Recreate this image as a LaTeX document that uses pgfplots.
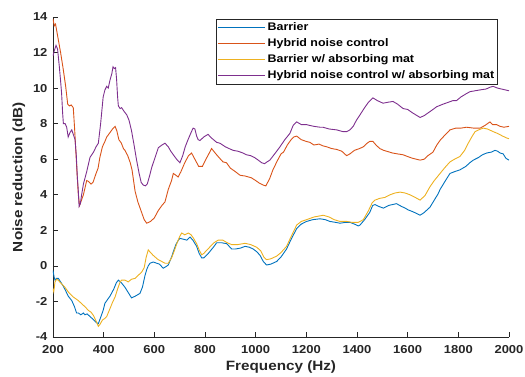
\documentclass[border=0pt]{standalone}
\usepackage{pgfplots}
\pgfplotsset{compat=1.18}
\usepackage{fontspec}
\newfontfamily\figfont{Liberation Sans}[FakeStretch=1.13]
\definecolor{mblue}{rgb}{0,0.447,0.741}
\definecolor{morange}{rgb}{0.85,0.325,0.098}
\definecolor{myellow}{rgb}{0.929,0.694,0.125}
\definecolor{mpurple}{rgb}{0.494,0.184,0.556}
\definecolor{axgray}{HTML}{262626}
\begin{document}
\begin{tikzpicture}
\path[use as bounding box] (-53pt,-39pt) rectangle (472pt,337pt);
\begin{axis}[
  scale only axis, width=456pt, height=320pt,
  xmin=200, xmax=2000, ymin=-4, ymax=14,
  axis lines*=left,
  axis line style={axgray, line width=0.6pt},
  tick style={axgray, line width=0.6pt},
  major tick length=5pt,
  xtick={200,400,...,2000}, ytick={-4,-2,...,14},
  /pgf/number format/assume math mode=true,
  /pgf/number format/1000 sep={},
  ticklabel style={font=\figfont\bfseries\fontsize{11.5}{13}\selectfont, text=axgray},
  xticklabel style={yshift=-5pt},
  yticklabel style={xshift=-2pt},
  xlabel={Frequency (Hz)}, ylabel={Noise reduction (dB)},
  label style={font=\figfont\bfseries\fontsize{13.5}{15}\selectfont, text=axgray},
  xlabel style={at={(axis description cs:0.5,-0.105)}, anchor=base},
  ylabel style={at={(axis description cs:-0.0746,0.5)}, anchor=center},
  legend style={at={(0.9759,0.99375)}, anchor=north east, draw=axgray, line width=0.6pt, fill=white,
    font=\figfont\bfseries\fontsize{11}{12}\selectfont, inner sep=1.5pt, row sep=2.6pt},
  legend cell align=left,
  legend image code/.code={\draw[#1, line width=1pt] (-6pt,0pt) -- (41pt,0pt);},
  every axis plot/.append style={line width=0.9pt},
]
\addplot[mblue] coordinates {
(200,-0.25)(204,-0.6)(208,-0.8)(214,-0.7)(221,-0.7)(230,-0.9)(241,-1.15)(250,-1.4)(260,-1.7)(274,-1.95)
(285,-2.3)(293,-2.65)(300,-2.65)(310,-2.75)(320,-2.65)(326,-2.75)(335,-2.7)(346,-2.85)(358,-3.0)(372,-3.2)
(379,-3.25)(388,-2.9)(398,-2.5)(405,-2.1)(415,-1.9)(425,-1.7)(440,-1.3)(450,-0.95)(458,-0.8)(470,-0.95)
(484,-1.2)(497,-1.5)(510,-1.8)(525,-1.7)(543,-1.55)(553,-1.2)(563,-0.55)(570,-0.2)(576,0.0)(583,0.15)
(596,0.22)(609,0.15)(620,0.1)(635,-0.13)(645,-0.05)(655,0.05)(668,0.5)(675,0.8)(685,1.2)(695,1.45)
(701,1.55)(715,1.5)(728,1.45)(741,1.62)(752,1.45)(767,1.1)(777,0.7)(787,0.45)(795,0.45)(813,0.7)
(833,1.05)(846,1.3)(866,1.3)(886,1.25)(905,0.95)(920,0.95)(940,1.0)(958,1.1)(975,1.05)(990,0.95)
(1004,0.8)(1017,0.6)(1030,0.25)(1043,0.05)(1060,0.1)(1083,0.25)(1100,0.5)(1122,0.95)(1140,1.5)(1162,2.1)
(1180,2.35)(1201,2.5)(1225,2.6)(1254,2.65)(1275,2.6)(1293,2.5)(1315,2.45)(1333,2.4)(1355,2.45)(1372,2.45)
(1390,2.35)(1405,2.25)(1412,2.3)(1430,2.6)(1450,3.0)(1462,3.4)(1471,3.45)(1485,3.35)(1504,3.25)(1525,3.4)
(1540,3.45)(1556,3.5)(1575,3.35)(1590,3.25)(1602,3.15)(1620,3.05)(1635,2.95)(1649,2.85)(1665,3.0)(1688,3.3)
(1705,3.7)(1720,4.05)(1728,4.3)(1745,4.7)(1767,5.2)(1785,5.3)(1806,5.4)(1830,5.6)(1845,5.8)(1859,5.95)
(1880,6.1)(1895,6.25)(1912,6.35)(1930,6.4)(1945,6.5)(1955,6.45)(1965,6.35)(1977,6.3)(1988,6.05)(2000,5.95)
};
\addlegendentry{Barrier}
\addplot[morange] coordinates {
(200,13.9)(205,13.5)(210,13.6)(220,12.8)(230,12.0)(240,11.1)(250,10.1)(258,9.1)(265,9.0)(272,9.05)
(280,8.9)(285,7.8)(290,6.5)(295,5.2)(300,4.0)(305,3.4)(310,3.6)(320,4.0)(333,4.8)(340,4.75)
(350,4.6)(358,4.7)(370,5.2)(378,5.5)(385,6.1)(395,6.7)(405,7.0)(412,7.25)(425,7.5)(435,7.7)
(445,7.85)(452,7.6)(460,7.1)(470,6.9)(478,6.6)(484,6.5)(495,6.2)(505,5.8)(512,5.4)(520,4.6)
(524,4.2)(535,3.6)(550,3.0)(560,2.6)(570,2.4)(585,2.5)(600,2.7)(615,3.1)(630,3.4)(642,3.6)
(655,4.3)(668,4.8)(675,5.2)(685,5.1)(694,5.0)(705,5.3)(720,5.8)(735,6.2)(747,6.35)(760,6.0)
(775,5.6)(790,5.6)(800,5.9)(815,6.3)(826,6.6)(840,6.35)(855,6.1)(871,5.85)(885,5.8)(900,5.5)
(920,5.3)(938,5.1)(960,5.05)(984,4.95)(1000,4.8)(1015,4.65)(1029,4.55)(1040,4.5)(1055,4.9)(1068,5.4)
(1085,5.9)(1100,6.3)(1110,6.4)(1125,6.8)(1140,7.1)(1150,7.25)(1162,7.3)(1180,7.1)(1200,7.0)(1214,6.95)
(1230,6.8)(1250,6.85)(1266,6.75)(1280,6.7)(1300,6.6)(1320,6.55)(1340,6.45)(1359,6.2)(1372,6.3)(1390,6.5)
(1410,6.6)(1425,6.7)(1440,6.9)(1450,7.0)(1463,7.0)(1475,6.8)(1490,6.6)(1505,6.5)(1517,6.45)(1540,6.35)
(1560,6.3)(1582,6.25)(1600,6.15)(1620,6.05)(1649,5.95)(1665,6.0)(1680,6.2)(1700,6.4)(1715,6.8)(1730,7.1)
(1750,7.4)(1767,7.65)(1790,7.75)(1810,7.75)(1833,7.8)(1860,7.75)(1886,7.75)(1905,7.9)(1925,8.1)(1935,7.95)
(1951,7.95)(1965,7.85)(1980,7.8)(2000,7.85)
};
\addlegendentry{Hybrid noise control}
\addplot[myellow] coordinates {
(200,-1.3)(203,-1.45)(208,-0.9)(214,-0.75)(220,-0.8)(230,-0.95)(247,-1.2)(262,-1.5)(280,-1.75)(300,-1.95)
(315,-2.15)(330,-2.35)(339,-2.5)(350,-2.6)(360,-2.8)(370,-3.1)(379,-3.4)(385,-3.3)(395,-3.05)(405,-2.95)
(412,-2.85)(425,-2.4)(435,-2.05)(445,-1.75)(455,-1.3)(465,-0.9)(471,-0.8)(484,-0.8)(497,-0.9)(510,-0.75)
(524,-0.7)(535,-0.55)(550,-0.35)(560,-0.1)(568,0.5)(576,0.9)(585,0.75)(595,0.6)(603,0.5)(615,0.35)
(629,0.25)(642,0.15)(655,0.15)(668,0.45)(675,0.7)(690,1.3)(700,1.65)(708,1.85)(720,1.75)(734,1.85)
(745,1.75)(755,1.55)(767,1.25)(777,0.9)(787,0.62)(795,0.7)(815,1.0)(835,1.3)(852,1.45)(870,1.45)
(888,1.3)(905,1.2)(930,1.2)(958,1.27)(980,1.2)(1004,1.05)(1020,0.85)(1032,0.5)(1043,0.35)(1060,0.4)
(1083,0.55)(1100,0.75)(1122,1.1)(1140,1.65)(1162,2.3)(1180,2.5)(1201,2.6)(1230,2.75)(1267,2.85)(1290,2.75)
(1310,2.6)(1333,2.5)(1360,2.5)(1380,2.45)(1405,2.45)(1425,2.6)(1445,3.1)(1460,3.55)(1471,3.7)(1490,3.8)
(1510,3.85)(1530,4.0)(1550,4.1)(1570,4.15)(1590,4.1)(1609,4.0)(1630,3.85)(1649,3.7)(1668,3.95)(1688,4.45)
(1705,4.8)(1728,5.2)(1745,5.5)(1767,5.85)(1785,6.0)(1806,6.15)(1825,6.5)(1839,6.9)(1855,7.3)(1866,7.55)
(1880,7.65)(1898,7.75)(1915,7.7)(1938,7.55)(1955,7.45)(1975,7.3)(1990,7.2)(2000,7.15)
};
\addlegendentry{Barrier w/ absorbing mat}
\addplot[mpurple] coordinates {
(200,11.8)(205,12.1)(212,12.4)(218,12.2)(225,11.2)(230,10.4)(234,9.7)(238,8.6)(241,8.0)(248,8.0)
(254,7.8)(260,7.25)(267,7.5)(274,7.65)(280,7.4)(287,7.1)(292,6.2)(296,5.0)(300,4.2)(303,3.35)
(308,3.5)(313,4.0)(320,4.6)(333,5.3)(346,6.1)(360,6.4)(370,6.7)(379,6.9)(388,8.0)(398,9.5)
(405,9.9)(412,10.1)(418,10.0)(425,10.45)(432,10.8)(437,11.2)(442,11.1)(447,11.15)(451,10.5)(455,9.5)
(458,9.0)(465,8.85)(471,8.9)(480,8.7)(491,8.5)(500,8.2)(510,7.6)(520,6.8)(530,5.95)(540,5.2)
(548,4.7)(556,4.55)(565,4.5)(572,4.6)(580,5.0)(590,5.55)(603,6.1)(616,6.65)(630,6.8)(642,6.9)
(655,6.7)(665,6.45)(675,6.25)(688,6.0)(701,5.8)(712,6.2)(722,6.7)(733,7.1)(745,7.5)(753,7.75)
(760,7.7)(767,7.3)(773,7.1)(780,7.05)(795,7.25)(812,7.4)(825,7.2)(846,6.95)(859,6.9)(880,6.7)
(895,6.6)(911,6.5)(930,6.45)(950,6.35)(964,6.25)(980,6.2)(995,6.1)(1010,5.95)(1024,5.8)(1035,5.75)
(1045,5.85)(1056,5.95)(1075,6.3)(1096,6.7)(1115,7.1)(1135,7.45)(1148,7.9)(1162,8.1)(1180,7.95)(1200,7.95)
(1214,7.9)(1230,7.85)(1254,7.8)(1266,7.8)(1290,7.7)(1320,7.65)(1345,7.55)(1359,7.55)(1372,7.65)(1385,7.85)
(1398,8.2)(1412,8.5)(1430,8.9)(1445,9.2)(1463,9.45)(1480,9.3)(1503,9.15)(1520,9.2)(1542,9.25)(1560,9.1)
(1582,8.85)(1600,8.8)(1620,8.6)(1649,8.35)(1665,8.45)(1685,8.65)(1700,8.8)(1714,8.95)(1740,9.1)(1760,9.2)
(1779,9.3)(1793,9.3)(1810,9.5)(1833,9.7)(1846,9.8)(1866,9.85)(1886,9.9)(1910,9.95)(1925,10.05)(1937,10.1)
(1955,10.0)(1970,9.95)(1985,9.9)(2000,9.85)
};
\addlegendentry{Hybrid noise control w/ absorbing mat}
\end{axis}
\end{tikzpicture}
\end{document}
